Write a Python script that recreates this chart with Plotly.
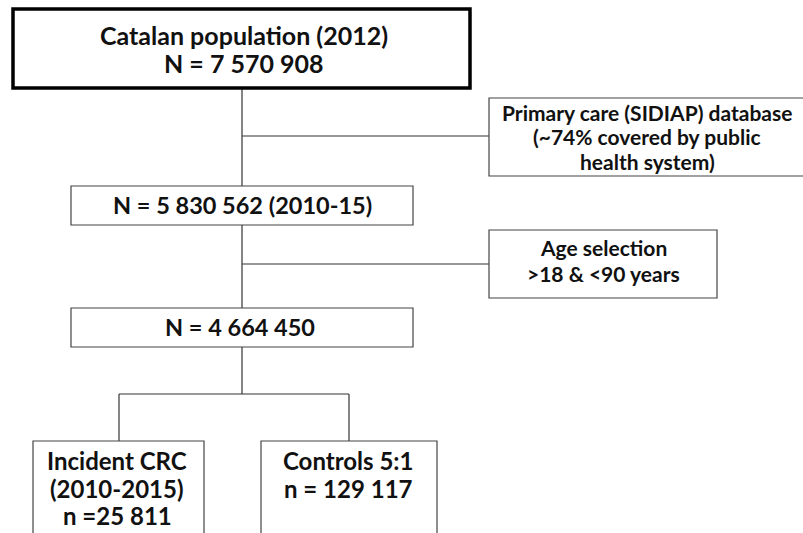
import plotly.graph_objects as go

# Flowchart content (text lines of each box)
box_labels = [
    ["Catalan population (2012)", "N = 7 570 908"],
    ["Primary care (SIDIAP) database", "(~74% covered by public", "health system)"],
    ["N = 5 830 562 (2010-15)"],
    ["Age selection", ">18 & <90 years"],
    ["N = 4 664 450"],
    ["Incident CRC", "(2010-2015)", "n =25 811"],
    ["Controls 5:1", "n = 129 117"],
]

# Geometry (pixel coordinates, y downwards): x0, y0, x1, y1, text centre x, line y's, font size, border width
geom = [
    (13, 9, 470, 88, 244, [35, 63], 25, 3.5),
    (489, 98, 812, 176, 647, [112, 136, 161], 21, 1.2),
    (71, 186, 413, 225, 242, [205], 23.5, 1.2),
    (489, 230, 717, 298, 603, [247, 273], 21, 1.2),
    (71, 308, 413, 347, 240, [327], 23.5, 1.2),
    (33, 441, 204, 560, 117, [460, 488, 515], 24, 1.2),
    (261, 441, 437, 560, 348, [460, 488], 24, 1.2),
]

# Connector lines
connectors = [
    (242, 88, 242, 186),
    (242, 136, 489, 136),
    (242, 225, 242, 308),
    (242, 264, 489, 264),
    (242, 347, 242, 394),
    (119, 394, 349, 394),
    (119, 394, 119, 441),
    (349, 394, 349, 441),
]

fig = go.Figure()
shapes = []
for (x0, y0, x1, y1) in connectors:
    shapes.append(dict(type="line", xref="x", yref="y", x0=x0, y0=y0, x1=x1, y1=y1,
                       line=dict(color="#333333", width=1.2), layer="below"))
annotations = []
for lines, (x0, y0, x1, y1, cx, ys, fs, bw) in zip(box_labels, geom):
    color = "#000000" if bw > 2 else "#444444"
    shapes.append(dict(type="rect", xref="x", yref="y", x0=x0, y0=y0, x1=x1, y1=y1,
                       line=dict(color=color, width=bw), fillcolor="white", layer="above"))
    for line, ty in zip(lines, ys):
        annotations.append(dict(x=cx, y=ty, xref="x", yref="y", text="<b>" + line + "</b>",
                                showarrow=False, xanchor="center", yanchor="middle",
                                borderpad=0,
                                font=dict(family="Lato", size=fs, color="#111111")))

fig.update_layout(
    width=803, height=533,
    margin=dict(l=0, r=0, t=0, b=0),
    paper_bgcolor="white", plot_bgcolor="white",
    shapes=shapes, annotations=annotations,
    xaxis=dict(range=[0, 803], visible=False, fixedrange=True),
    yaxis=dict(range=[533, 0], visible=False, fixedrange=True),
    showlegend=False,
)
fig.write_html("out.html", config={"displayModeBar": False},
               post_script="document.body.style.margin='0';")
